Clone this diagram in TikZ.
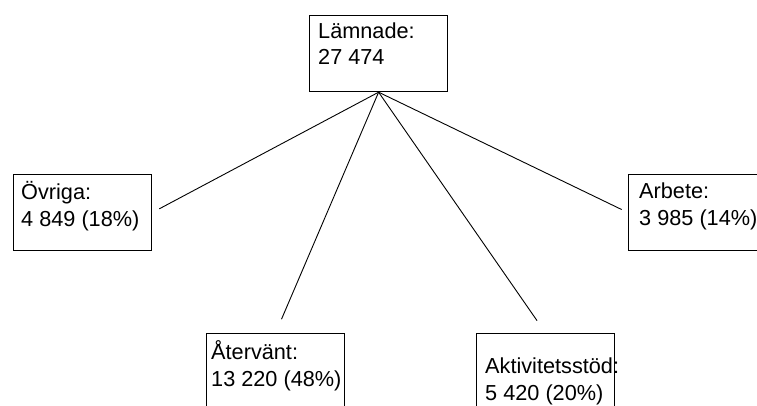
\documentclass[tikz,border=0pt]{standalone}
\usepackage{fontspec}
\setmainfont{Liberation Sans}

\begin{document}
\begin{tikzpicture}[x=1pt, y=-1pt,
  box/.style={draw, line width=1.2pt, minimum width=138pt, minimum height=76pt, inner sep=0pt, anchor=north west},
  txt/.style={anchor=base west, inner sep=0pt, align=left, font=\fontsize{21.7}{26.5}\selectfont},
  link/.style={line width=0.9pt}]
\useasboundingbox (0,0) rectangle (757,406);

%top
\node[txt] (lamnadetxt) at (318,65) {Lämnade:\\27 474};
\node[box] (lamnade) at (309,15) {};

%left
\node[txt] (ovrigatxt) at (21,226) {Övriga:\\4 849 (18\%)};
\node[box] (ovriga) at (13,174) {};

%right
\node[txt] (arbetetxt) at (639,225) {Arbete:\\3 985 (14\%)};
\node[box] (arbete) at (628,174) {};

%bottom
\node[txt] (atervanttxt) at (211,386) {Återvänt:\\13 220 (48\%)};
\node[box] (atervant) at (206,333) {};
\node[txt] (aktivitettxt) at (485,400) {Aktivitetsstöd:\\5 420 (20\%)};
\node[box] (aktivitet) at (476,333) {};

%links
\draw[link, shorten >=8pt] (lamnade.south) -- (ovriga.east);
\draw[link, shorten >=7pt] (lamnade.south) -- (arbete.west);
\draw[link, shorten >=15pt] (lamnade.south) -- (atervant.north);
\draw[link, shorten >=15pt] (lamnade.south) -- (aktivitet.north);
\end{tikzpicture}
\end{document}
